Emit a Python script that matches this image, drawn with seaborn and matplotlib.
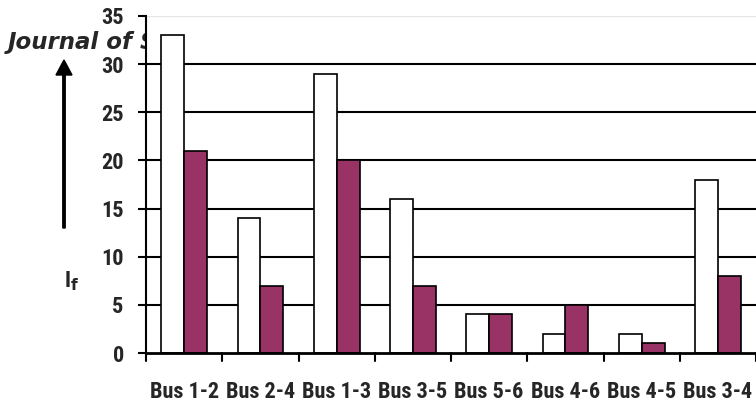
import matplotlib
matplotlib.use("Agg")
import matplotlib.pyplot as plt
import matplotlib.font_manager as fm
import seaborn as sns
import pandas as pd

categories = ["Bus 1-2", "Bus 2-4", "Bus 1-3", "Bus 3-5", "Bus 5-6", "Bus 4-6", "Bus 4-5", "Bus 3-4"]
series_a = [33, 14, 29, 16, 4, 2, 2, 18]
series_b = [21, 7, 20, 7, 4, 5, 1, 8]
series_names = ["A", "B"]
y_ticks = [0, 5, 10, 15, 20, 25, 30, 35]

df = pd.DataFrame({
    "cat": categories * 2,
    "val": series_a + series_b,
    "series": [series_names[0]] * len(categories) + [series_names[1]] * len(categories),
})

sns.set_theme(style="white")
names = {f.name for f in fm.fontManager.ttflist}
narrow = "Roboto Condensed" if "Roboto Condensed" in names else "Liberation Sans"
plt.rcParams["font.family"] = [narrow, "DejaVu Sans"]
fs = 16 if narrow == "Roboto Condensed" else 13.5

fig = plt.figure(figsize=(7.56, 4.12), dpi=100)
ax = fig.add_axes([146 / 756, 1 - 353 / 412, 610 / 756, 337 / 412])

sns.barplot(data=df, x="cat", y="val", hue="series", order=categories,
            palette=["white", "#993366"], saturation=1, edgecolor="black", linewidth=1.2,
            width=0.6, ax=ax, legend=False, zorder=3)

ax.set_ylim(0, 35)
ax.set_xlim(-0.5, len(categories) - 0.5)
ax.set_yticks(y_ticks)
ax.set_yticklabels([str(t) for t in y_ticks], fontsize=fs, fontweight="bold")
for yv in y_ticks[1:-1]:
    ax.axhline(yv, color="black", lw=1.5, zorder=1)
ax.axhline(35, color="#e6e6e6", lw=1.0, zorder=1)

ax.set_xticks(range(len(categories)))
ax.set_xticklabels(categories, fontsize=fs, fontweight="bold")
ax.tick_params(axis="x", length=0, pad=20)
for i in range(len(categories) + 1):
    ax.plot([i - 0.5, i - 0.5], [0, -0.8], color="black", lw=1.5, clip_on=False, zorder=4)
ax.tick_params(axis="y", length=6, width=1.5, color="black", direction="out", left=True, pad=10)

ax.set_xlabel("")
ax.set_ylabel("")
for s in ["top", "right"]:
    ax.spines[s].set_visible(False)
ax.spines["left"].set_color("black")
ax.spines["left"].set_linewidth(1.5)
ax.spines["bottom"].set_color("black")
ax.spines["bottom"].set_linewidth(2.0)
ax.spines["left"].set_zorder(5)
ax.spines["bottom"].set_zorder(5)
ax.set_facecolor("white")

fig.text(72 / 756, 1 - 281 / 412, "I$_\\mathbf{f}$", fontsize=16, fontweight="bold",
         ha="center", va="center")
fig.add_artist(matplotlib.patches.FancyArrow(
    64 / 756, 1 - 228 / 412, 0, (228 - 75) / 412, width=2.4 / 756,
    head_width=16 / 756, head_length=15 / 412, length_includes_head=False,
    transform=fig.transFigure, color="black"))

fig.text(8 / 756, 1 - 43 / 412, "Journal of S", fontsize=16.5, fontweight="bold",
         style="italic", family="DejaVu Sans", ha="left", va="center", zorder=-1)

fig.savefig("out.png", dpi=100)
